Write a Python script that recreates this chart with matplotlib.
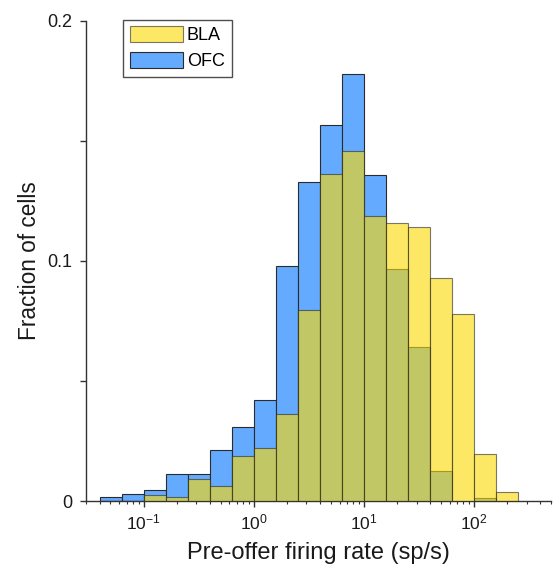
import numpy as np
import matplotlib
matplotlib.use("Agg")
import matplotlib.pyplot as plt
from matplotlib.ticker import FixedLocator, LogLocator, NullFormatter

plt.rcParams['font.family'] = ['Liberation Sans', 'DejaVu Sans']
plt.rcParams['mathtext.fontset'] = 'custom'
plt.rcParams['mathtext.rm'] = 'Liberation Sans'
plt.rcParams['mathtext.it'] = 'Liberation Sans:italic'

# bin edges in log10(sp/s)
edge_exponents = [-1.4, -1.2, -1.0, -0.8, -0.6, -0.4, -0.2, 0.0, 0.2, 0.4,
                  0.6, 0.8, 1.0, 1.2, 1.4, 1.6, 1.8, 2.0, 2.2, 2.4]
ofc = [0.0017, 0.0030, 0.0044, 0.0114, 0.0114, 0.0211, 0.0310, 0.0422, 0.0979,
       0.1329, 0.1568, 0.1778, 0.1357, 0.0967, 0.0643, 0.0123, 0.0, 0.0014, 0.0]
bla = [0.0, 0.0, 0.0026, 0.0018, 0.0090, 0.0063, 0.0188, 0.0222, 0.0362,
       0.0796, 0.1364, 0.1460, 0.1186, 0.1160, 0.1142, 0.0930, 0.0779, 0.0195, 0.0036]
labels = ['BLA', 'OFC']
xlabel = 'Pre-offer firing rate (sp/s)'
ylabel = 'Fraction of cells'

edges = 10.0 ** np.array(edge_exponents)
left = edges[:-1]
widths = edges[1:] - edges[:-1]

fig = plt.figure(figsize=(5.55, 5.67), dpi=100)
ax = fig.add_axes([0.155, 0.1164, 0.838, 0.8466])

blue = (100/255, 170/255, 255/255)
yellow = (251/255, 218/255, 5/255)
ec = '#2b2b2b'

ax.bar(left, ofc, width=widths, align='edge', color=blue, edgecolor=ec,
       linewidth=0.8, label=labels[1], zorder=2)
ax.bar(left, bla, width=widths, align='edge', color=yellow, alpha=0.62,
       edgecolor=ec, linewidth=0.8, label=labels[0], zorder=3)

ax.set_xscale('log')
ax.set_xlim(0.03, 500)
ax.set_ylim(0, 0.2)

for s in ['top', 'right']:
    ax.spines[s].set_visible(False)
for s in ['left', 'bottom']:
    ax.spines[s].set_color('#333333')
    ax.spines[s].set_linewidth(1.0)

ax.yaxis.set_major_locator(FixedLocator([0, 0.1, 0.2]))
ax.yaxis.set_minor_locator(FixedLocator([0.05, 0.15]))
ax.set_yticklabels(['0', '0.1', '0.2'])
ax.xaxis.set_major_locator(LogLocator(base=10, numticks=10))
ax.xaxis.set_minor_locator(LogLocator(base=10, subs=np.arange(2, 10), numticks=20))
ax.xaxis.set_minor_formatter(NullFormatter())

ax.tick_params(axis='y', which='major', direction='out', length=4.5, width=1,
               pad=5.5, labelsize=13, color='#333333', labelcolor='#1a1a1a')
ax.tick_params(axis='y', which='minor', direction='out', length=4.5, width=1,
               color='#333333')
ax.tick_params(axis='x', which='major', direction='out', length=4, width=1,
               pad=4, labelsize=12.5, color='#333333', labelcolor='#1a1a1a')
ax.tick_params(axis='x', which='minor', direction='out', length=2.5, width=0.8,
               color='#333333')

ax.set_xlabel(xlabel, fontsize=17, color='#1a1a1a', labelpad=7)
ax.set_ylabel(ylabel, fontsize=16.3, color='#1a1a1a', labelpad=4.7)

h, l = ax.get_legend_handles_labels()
leg = ax.legend([h[1], h[0]], [l[1], l[0]], loc='upper left',
                bbox_to_anchor=(0.079, 1.003), fontsize=13, frameon=True,
                fancybox=False, edgecolor='#222222', handlelength=2.95,
                handleheight=0.95, handletextpad=0.22, borderpad=0.38,
                labelspacing=0.42, borderaxespad=0)
leg.get_frame().set_linewidth(1.0)

fig.savefig('out.png', dpi=100)
